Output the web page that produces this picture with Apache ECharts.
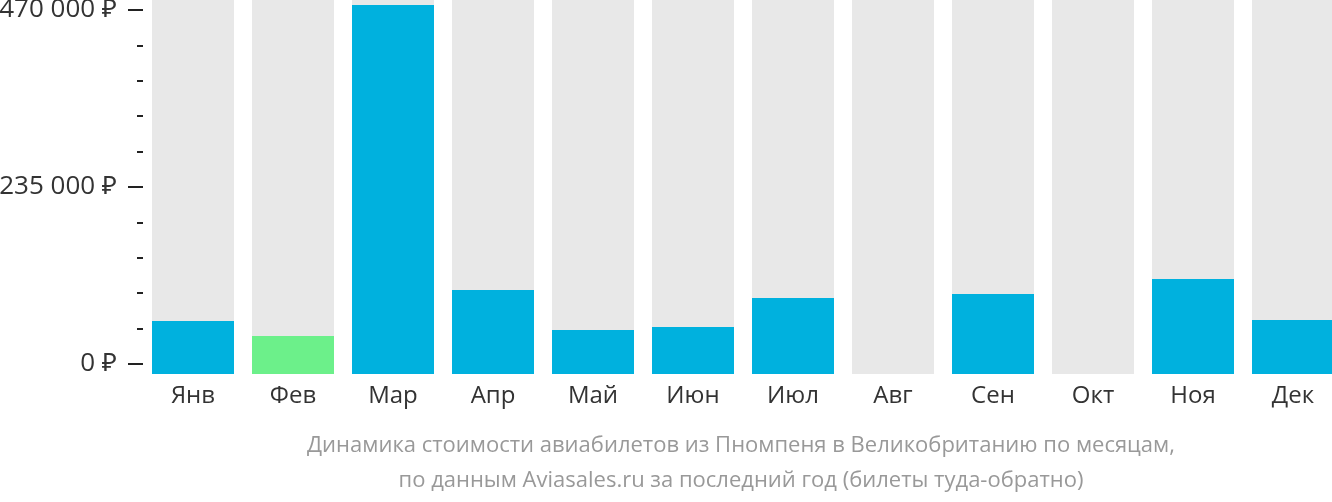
<!DOCTYPE html>
<html>
<head>
<meta charset="utf-8">
<script src="https://cdn.jsdelivr.net/npm/echarts@6/dist/echarts.min.js"></script>
<style>html,body{margin:0;padding:0;background:#fff;}#c{width:1332px;height:502px;}</style>
</head>
<body>
<div id="c"></div>
<script>
const months = ['Янв','Фев','Мар','Апр','Май','Июн','Июл','Авг','Сен','Окт','Ноя','Дек'];
const prices = [70400, 50500, 489900, 111500, 58400, 62400, 100900, null, 106200, null, 126100, 71700];
const cheapestIndex = 1;
const axisMax = 470000;
const axisStep = 235000;
const titleLines = ['Динамика стоимости авиабилетов из Пномпеня в Великобританию по месяцам,', 'по данным Aviasales.ru за последний год (билеты туда-обратно)'];

const FONT = '"Open Sans", "Noto Sans", sans-serif';
const pxPerVal = 354 / axisMax;
const barMax = 374 / pxPerVal;

const chart = echarts.init(document.getElementById('c'), null, {renderer: 'canvas'});
chart.setOption({
  animation: false,
  grid: [
    {left: 143, width: 1200, top: 0, height: 374, outerBoundsMode: 'none', containLabel: false},
    {left: 143, width: 1200, top: 10, height: 354, outerBoundsMode: 'none', containLabel: false}
  ],
  xAxis: [
    {type: 'category', gridIndex: 0, data: months,
     axisLine: {show: false}, axisTick: {show: false},
     axisLabel: {fontFamily: FONT, fontSize: 24, color: '#333', margin: 10}},
    {type: 'category', gridIndex: 1, data: months, show: false}
  ],
  yAxis: [
    {type: 'value', gridIndex: 0, min: 0, max: barMax, show: false, splitLine: {show: false}},
    {type: 'value', gridIndex: 1, min: 0, max: axisMax, interval: axisStep,
     axisLine: {show: false}, splitLine: {show: false},
     axisTick: {show: true, inside: false, length: 15, lineStyle: {color: '#222', width: 2}},
     minorTick: {show: true, splitNumber: 5, length: 6, lineStyle: {color: '#222', width: 2}},
     minorSplitLine: {show: false},
     axisLabel: {fontFamily: FONT, fontSize: 26, color: '#333', margin: 26,
       formatter: v => (v === 0 ? '0' : String(v).replace(/\B(?=(\d{3})+(?!\d))/g, ' ')) + ' ₽'}}
  ],
  series: [{
    type: 'bar', xAxisIndex: 0, yAxisIndex: 0,
    barWidth: 82,
    showBackground: true,
    backgroundStyle: {color: '#e8e8e8'},
    data: prices.map((v, i) => ({value: v, itemStyle: {color: i === cheapestIndex ? '#6cf08a' : '#00b1de'}}))
  }],
  graphic: [{
    type: 'text', x: 741, y: 463,
    style: {text: titleLines.join('\n'), fontFamily: FONT, fontSize: 22, fill: '#999',
      align: 'center', verticalAlign: 'middle', lineHeight: 35}
  }]
});
</script>
</body>
</html>
